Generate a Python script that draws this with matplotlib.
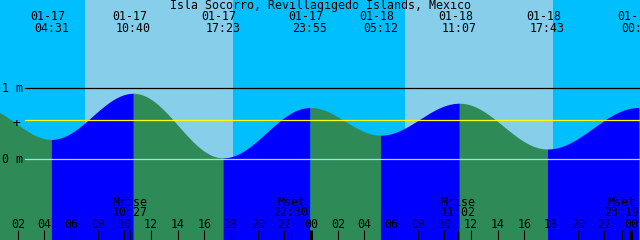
import numpy as np
import matplotlib
matplotlib.use("Agg")
import matplotlib.pyplot as plt

# tide extremes (day, hh:mm, metres); first/last lie just outside the window
tide_days = ["01-16", "01-17", "01-17", "01-17", "01-17", "01-18", "01-18", "01-18", "01-19", "01-19"]
tide_times = ["23:10", "04:31", "10:40", "17:23", "23:55", "05:12", "11:07", "17:43", "00:34", "06:40"]
tide_levels = [0.74, 0.28, 0.93, 0.02, 0.73, 0.34, 0.79, 0.145, 0.73, 0.33]

sun_rise = ["01-17 07:02", "01-18 07:02"]
sun_set = ["01-17 18:08", "01-18 18:08"]

moon_labels = ["Mrise", "Mset", "Mrise", "Mset"]
moon_times = ["01-17 10:27", "01-17 22:30", "01-18 11:02", "01-18 23:19"]

title = "Isla Socorro, Revillagigedo Islands, Mexico"
mean_level = 0.55

night_col = "#00bfff"
day_col = "#87ceeb"
flood_col = "#0000ff"
ebb_col = "#2e8b57"


def hours(stamp):
    # hours since 01-17 00:00
    day, hm = stamp.split(" ")
    h, m = hm.split(":")
    return (int(day[3:]) - 17) * 24 + int(h) + int(m) / 60


t_ext = np.array([hours(d + " " + t) for d, t in zip(tide_days, tide_times)])
h_ext = np.array(tide_levels)

x0, x1 = 40 / 60, 48 + 40 / 60
y0, y1 = -1.137, 2.244

fig = plt.figure(figsize=(6.4, 2.4), dpi=100)
ax = fig.add_axes([0, 0, 1, 1])
ax.set_xlim(x0, x1)
ax.set_ylim(y0, y1)
ax.axis("off")

# night / day background
ax.axvspan(x0, x1, color=night_col, zorder=0, lw=0)
for r, s in zip(sun_rise, sun_set):
    ax.axvspan(hours(r), hours(s), color=day_col, zorder=0.5, lw=0)

# tide curve between extremes, coloured by flood / ebb
for i in range(len(t_ext) - 1):
    ta, tb = t_ext[i], t_ext[i + 1]
    ha, hb = h_ext[i], h_ext[i + 1]
    t = np.linspace(ta, tb, 200)
    f = (t - ta) / (tb - ta)
    h = hb + (ha - hb) * (1 + np.cos(np.pi * f)) / 2
    col = flood_col if hb > ha else ebb_col
    ax.fill_between(t, y0, h, color=col, lw=0, zorder=1)

# level lines
fs = 8.4
mono = "DejaVu Sans Mono"
xs = 25 / 640
ax.axhline(1, xmin=xs, xmax=1, color="black", lw=0.9, zorder=2)
ax.axhline(0, xmin=xs, xmax=1, color="#a8dcf0", lw=0.9, zorder=2)
ax.axhline(mean_level, xmin=xs, xmax=1, color="#ffff00", lw=0.9, zorder=2)
tr_y = ax.get_yaxis_transform()
ax.text(12 / 640, 1, "1 m", transform=tr_y, ha="center", va="center", fontsize=fs, family=mono)
ax.text(12 / 640, 0, "0 m", transform=tr_y, ha="center", va="center", fontsize=fs, family=mono)
ax.text(16 / 640, mean_level - 0.04, "+", transform=tr_y, ha="center", va="center", fontsize=fs + 1, family=mono)

tr_x = ax.get_xaxis_transform()
ax.text(0.5, 1 - 5.5 / 240, title, transform=ax.transAxes, ha="center", va="center", fontsize=fs, family=mono)

# extreme labels along the top
for d, t, te in zip(tide_days, tide_times, t_ext):
    if x0 - 1 < te < x1 + 1:
        ax.text(te - 0.3, 1 - 16 / 240, d, transform=tr_x, ha="center", va="center", fontsize=fs, family=mono)
        ax.text(te, 1 - 29 / 240, t, transform=tr_x, ha="center", va="center", fontsize=fs, family=mono)

# hour ticks and labels
for hr in range(2, 49, 2):
    lw = 2.2 if hr % 24 == 0 else 0.8
    ax.vlines(hr, 0, 10 / 240, transform=tr_x, color="black", lw=lw, zorder=3)
    ax.text(hr, 1 - 225 / 240, "%02d" % (hr % 24), transform=tr_x, ha="center", va="center", fontsize=fs, family=mono)

# moon rise / set
for lab, mt in zip(moon_labels, moon_times):
    tm = hours(mt)
    ax.vlines(tm, 0, 10 / 240, transform=tr_x, color="black", lw=0.8, zorder=3)
    ax.text(tm, 1 - 202 / 240, lab, transform=tr_x, ha="center", va="center", fontsize=fs, family=mono)
    ax.text(tm, 1 - 213 / 240, mt.split(" ")[1], transform=tr_x, ha="center", va="center", fontsize=fs, family=mono)

fig.savefig("out.png", dpi=100)
